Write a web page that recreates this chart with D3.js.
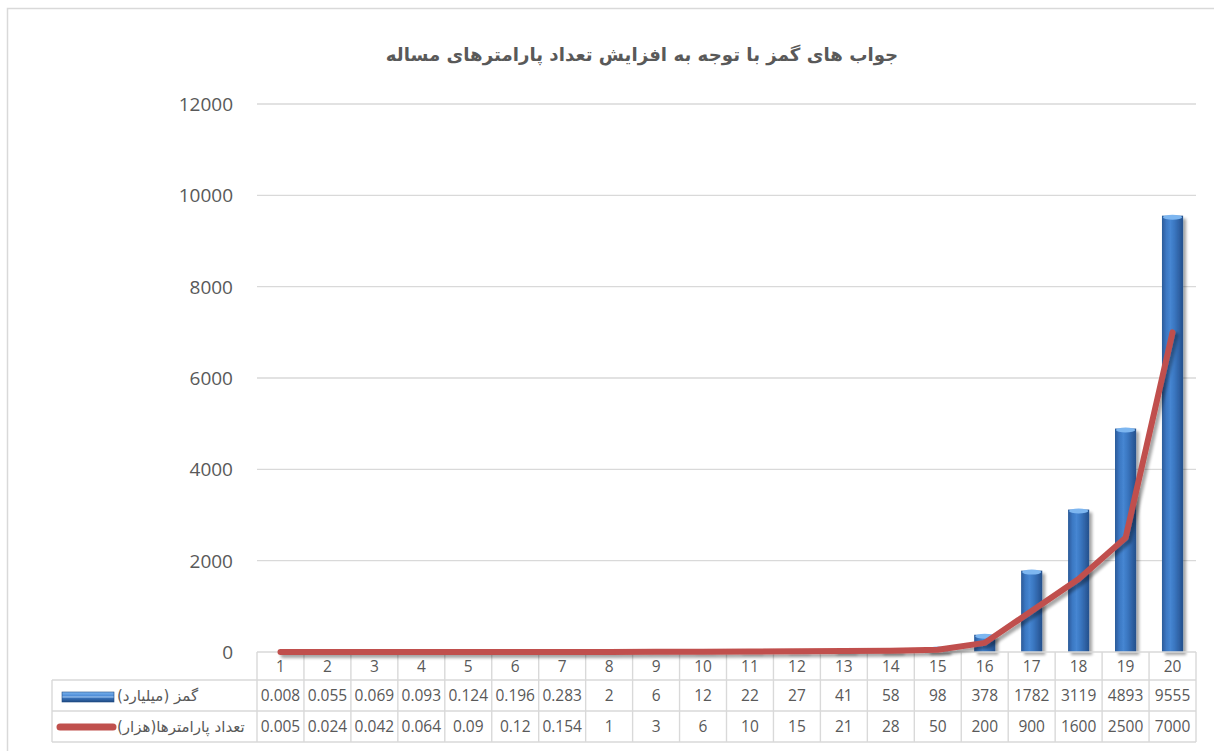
<!DOCTYPE html>
<html>
<head>
<meta charset="utf-8">
<script src="https://cdn.jsdelivr.net/npm/d3@7"></script>
<style>
html,body{margin:0;padding:0;background:#fff;}
svg{display:block;}
</style>
</head>
<body>
<svg id="chart" width="1214" height="751"></svg>
<script>
// ---- data ----
const categories = ["1","2","3","4","5","6","7","8","9","10","11","12","13","14","15","16","17","18","19","20"];
const gamsValues = [0.008,0.055,0.069,0.093,0.124,0.196,0.283,2,6,12,22,27,41,58,98,378,1782,3119,4893,9555];
const gamsLabels = ["0.008","0.055","0.069","0.093","0.124","0.196","0.283","2","6","12","22","27","41","58","98","378","1782","3119","4893","9555"];
const paramValues = [0.005,0.024,0.042,0.064,0.09,0.12,0.154,1,3,6,10,15,21,28,50,200,900,1600,2500,7000];
const paramLabels = ["0.005","0.024","0.042","0.064","0.09","0.12","0.154","1","3","6","10","15","21","28","50","200","900","1600","2500","7000"];
const yTicks = [0,2000,4000,6000,8000,10000,12000];
const titleText = "جواب های گمز با توجه به افزایش تعداد پارامترهای مساله";
const seriesNames = ["گمز (میلیارد)", "تعداد پارامترها(هزار)"];

// ---- layout ----
const svg = d3.select("#chart");
const X0 = 257, X1 = 1196, YTOP = 104, YBASE = 652;
const rowH = [652, 680, 711, 742];
const tableLeft = 52;
const grey = "#595959", gridC = "#d9d9d9";

const x = d3.scaleBand().domain(categories).range([X0, X1]).paddingInner(0).paddingOuter(0);
const y = d3.scaleLinear().domain([0, 12000]).range([YBASE, YTOP]);

const defs = svg.append("defs");
const g1 = defs.append("linearGradient").attr("id","barGrad").attr("x1","0").attr("x2","1").attr("y1","0").attr("y2","0");
[["0%","#2a5a98"],["20%","#3b77c2"],["40%","#4686d2"],["60%","#3a76c0"],["100%","#24508c"]].forEach(s=>g1.append("stop").attr("offset",s[0]).attr("stop-color",s[1]));
const g2 = defs.append("linearGradient").attr("id","legGrad").attr("x1","0").attr("x2","0").attr("y1","0").attr("y2","1");
[["0%","#7ab4f0"],["40%","#4d8bd6"],["50%","#a9cdf3"],["60%","#3a73bb"],["100%","#1f4a82"]].forEach(s=>g2.append("stop").attr("offset",s[0]).attr("stop-color",s[1]));
const sh = defs.append("filter").attr("id","shadow").attr("x","-20%").attr("y","-20%").attr("width","140%").attr("height","140%");
sh.append("feGaussianBlur").attr("in","SourceAlpha").attr("stdDeviation","1.5");
sh.append("feOffset").attr("dx","2.5").attr("dy","2.5").attr("result","ob");
sh.append("feComponentTransfer").append("feFuncA").attr("type","linear").attr("slope","0.35");
const m = sh.append("feMerge"); m.append("feMergeNode"); m.append("feMergeNode").attr("in","SourceGraphic");

// frame
svg.append("rect").attr("x",7.5).attr("y",8.5).attr("width",1220).attr("height",760)
  .attr("fill","none").attr("stroke","#d9d9d9").attr("stroke-width",1.5);

// title
svg.append("text").attr("x",642).attr("y",61).attr("text-anchor","middle").attr("direction","rtl")
  .attr("font-family","DejaVu Sans").attr("font-weight","bold").attr("font-size",18.2).attr("fill",grey)
  .text(titleText);

// gridlines
svg.append("g").selectAll("line").data(yTicks.filter(d=>d>0)).join("line")
  .attr("x1",X0).attr("x2",X1).attr("y1",d=>y(d)).attr("y2",d=>y(d))
  .attr("stroke",gridC).attr("stroke-width",1.3);

// y labels
svg.append("g").selectAll("text").data(yTicks).join("text")
  .attr("x",233).attr("y",d=>y(d)+7).attr("text-anchor","end")
  .attr("font-family","Open Sans, Liberation Sans, sans-serif").attr("font-size",19).attr("fill",grey)
  .text(d=>d);

// bars
const bw = x.bandwidth()*0.45;
const bars = svg.append("g").attr("filter","url(#shadow)");
bars.selectAll("rect").data(gamsValues).join("rect")
  .attr("x",(d,i)=>x(categories[i])+x.bandwidth()/2-bw/2)
  .attr("width",bw)
  .attr("y",d=>y(d))
  .attr("height",d=>YBASE-y(d))
  .attr("fill","url(#barGrad)");
bars.selectAll("ellipse").data(gamsValues.filter(d=>YBASE-y(d)>4)).join("ellipse")
  .attr("cx",d=>x(categories[gamsValues.indexOf(d)])+x.bandwidth()/2)
  .attr("cy",d=>y(d)+1.5)
  .attr("rx",bw/2-1).attr("ry",2.5)
  .attr("fill","#7db6f0");

// table lines
const tl = svg.append("g").attr("stroke",gridC).attr("stroke-width",1.4);
tl.append("line").attr("x1",X0).attr("x2",X1).attr("y1",rowH[0]).attr("y2",rowH[0]);
[1,2,3].forEach(k=>tl.append("line").attr("x1",tableLeft).attr("x2",X1).attr("y1",rowH[k]).attr("y2",rowH[k]));
tl.append("line").attr("x1",tableLeft).attr("x2",tableLeft).attr("y1",rowH[1]).attr("y2",rowH[3]);
const bounds = categories.map(c=>x(c)).concat([X1]);
tl.selectAll(".v").data(bounds).join("line").attr("class","v")
  .attr("x1",d=>d).attr("x2",d=>d).attr("y1",rowH[0]).attr("y2",rowH[3]);

// line series
const line = d3.line().x((d,i)=>x(categories[i])+x.bandwidth()/2).y(d=>y(d));
svg.append("path").datum(paramValues).attr("d",line)
  .attr("fill","none").attr("stroke","#c0504d").attr("stroke-width",6)
  .attr("stroke-linejoin","round").attr("stroke-linecap","round")
  .attr("filter","url(#shadow)");

// table texts
const tf = "Open Sans, Liberation Sans, sans-serif";
const tt = svg.append("g").attr("font-family",tf).attr("font-size",15.5).attr("fill",grey).attr("text-anchor","middle");
tt.selectAll(".c").data(categories).join("text").attr("class","c")
  .attr("x",d=>x(d)+x.bandwidth()/2).attr("y",(rowH[0]+rowH[1])/2+6).text(d=>d);
tt.selectAll(".g").data(gamsLabels).join("text").attr("class","g")
  .attr("x",(d,i)=>x(categories[i])+x.bandwidth()/2).attr("y",(rowH[1]+rowH[2])/2+5.5).text(d=>d);
tt.selectAll(".p").data(paramLabels).join("text").attr("class","p")
  .attr("x",(d,i)=>x(categories[i])+x.bandwidth()/2).attr("y",(rowH[2]+rowH[3])/2+5.5).text(d=>d);

// legend
svg.append("rect").attr("x",62).attr("y",692).attr("width",52).attr("height",10).attr("fill","url(#legGrad)")
  .attr("stroke","#1f4a82").attr("stroke-width",0.6);
svg.append("line").attr("x1",60).attr("x2",113).attr("y1",727).attr("y2",727)
  .attr("stroke","#c0504d").attr("stroke-width",7).attr("stroke-linecap","round");
svg.append("text").attr("x",117).attr("y",701).attr("direction","rtl").attr("text-anchor","end")
  .attr("font-family","DejaVu Sans").attr("font-size",15).attr("fill",grey).text(seriesNames[0]);
svg.append("text").attr("x",117).attr("y",732).attr("direction","rtl").attr("text-anchor","end")
  .attr("font-family","DejaVu Sans").attr("font-size",15).attr("fill",grey).text(seriesNames[1]);
</script>
</body>
</html>
